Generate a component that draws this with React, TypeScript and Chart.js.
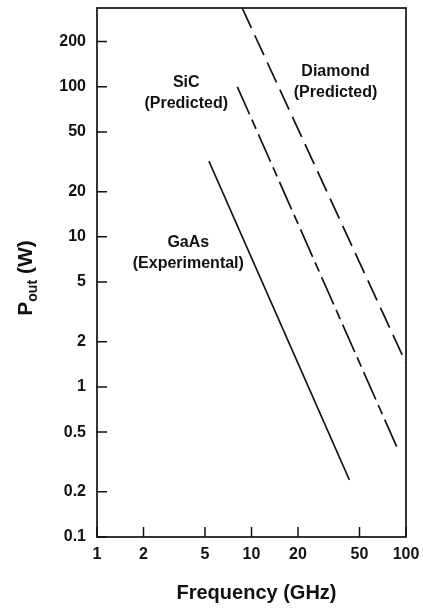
import React, { useEffect, useRef } from "react";
import { Chart, registerables } from "chart.js";
Chart.register(...registerables);

const FONT = '"Liberation Sans", Arial, Helvetica, sans-serif';
const INK = "#111";

const freqTicks = [1, 2, 5, 10, 20, 50, 100];
const powerTicks = [0.1, 0.2, 0.5, 1, 2, 5, 10, 20, 50, 100, 200];

const gaasFreq = [5.3, 43];
const gaasPower = [32, 0.24];
const sicFreq = [8.1, 87];
const sicPower = [100, 0.4];
const diamondFreq = [8.7, 100];
const diamondPower = [335, 1.44];

const labelTexts = ["SiC", "(Predicted)", "Diamond", "(Predicted)", "GaAs", "(Experimental)"];
const labelFreq = [3.78, 3.78, 35, 35, 3.9, 3.9];
const labelPower = [106, 77, 126, 91, 9.1, 6.6];

const toPoints = (xs: number[], ys: number[]) => xs.map((x, i) => ({ x, y: ys[i] }));

const zeroPad = (s: any) => {
  s.paddingTop = 0;
  s.paddingBottom = 0;
  s.paddingLeft = 0;
  s.paddingRight = 0;
};

const framePlugin = {
  id: "frame",
  afterDraw(chart: any) {
    const ctx = chart.ctx as CanvasRenderingContext2D;
    const a = chart.chartArea;
    const xs = chart.scales.x;
    const ys = chart.scales.y;
    ctx.save();
    ctx.strokeStyle = INK;
    ctx.lineWidth = 1.7;
    ctx.strokeRect(a.left, a.top, a.right - a.left, a.bottom - a.top);
    ctx.lineWidth = 1.5;
    ctx.beginPath();
    powerTicks.forEach((v) => {
      const y = ys.getPixelForValue(v);
      ctx.moveTo(a.left, y);
      ctx.lineTo(a.left + 10, y);
    });
    freqTicks.forEach((v) => {
      const x = xs.getPixelForValue(v);
      ctx.moveTo(x, a.bottom);
      ctx.lineTo(x, a.bottom - 10);
    });
    ctx.stroke();

    ctx.fillStyle = INK;
    // x title
    ctx.font = `bold 20px ${FONT}`;
    ctx.textAlign = "center";
    ctx.textBaseline = "middle";
    ctx.fillText("Frequency (GHz)", (a.left + a.right) / 2 + 5, 593);

    // y title with subscript
    ctx.save();
    ctx.translate(25, 278);
    ctx.rotate(-Math.PI / 2);
    ctx.textAlign = "left";
    ctx.textBaseline = "alphabetic";
    const big = `bold 21px ${FONT}`;
    const small = `bold 14px ${FONT}`;
    ctx.font = big;
    const wP = ctx.measureText("P").width;
    const wRest = ctx.measureText(" (W)").width;
    ctx.font = small;
    const wSub = ctx.measureText("out").width;
    const total = wP + wSub + wRest;
    let cx = -total / 2;
    const base = 7;
    ctx.font = big;
    ctx.fillText("P", cx, base);
    cx += wP;
    ctx.font = small;
    ctx.fillText("out", cx, base + 5);
    cx += wSub;
    ctx.font = big;
    ctx.fillText(" (W)", cx, base);
    ctx.restore();

    // series labels
    ctx.font = `bold 16px ${FONT}`;
    ctx.textAlign = "center";
    ctx.textBaseline = "middle";
    labelTexts.forEach((t, i) => {
      ctx.fillText(t, xs.getPixelForValue(labelFreq[i]), ys.getPixelForValue(labelPower[i]));
    });
    ctx.restore();
  },
};

export default function App() {
  const ref = useRef<HTMLCanvasElement>(null);
  useEffect(() => {
    const canvas = ref.current!;
    const tickFont = { family: FONT, size: 16, weight: "bold" as const };
    const chart = new Chart(canvas, {
      type: "line",
      data: {
        datasets: [
          {
            label: "GaAs (Experimental)",
            data: toPoints(gaasFreq, gaasPower),
            borderColor: INK,
            borderWidth: 1.6,
            pointRadius: 0,
            fill: false,
          },
          {
            label: "SiC (Predicted)",
            data: toPoints(sicFreq, sicPower),
            borderColor: INK,
            borderWidth: 1.7,
            borderDash: [30, 6, 10, 6],
            pointRadius: 0,
            fill: false,
          },
          {
            label: "Diamond (Predicted)",
            data: toPoints(diamondFreq, diamondPower),
            borderColor: INK,
            borderWidth: 1.7,
            borderDash: [22, 8],
            pointRadius: 0,
            fill: false,
          },
        ],
      },
      options: {
        responsive: false,
        animation: false,
        devicePixelRatio: 1,
        layout: { padding: { top: 8, right: 17, left: 0, bottom: 0 } },
        plugins: { legend: { display: false }, tooltip: { enabled: false } },
        scales: {
          x: {
            type: "logarithmic",
            min: 1,
            max: 100,
            position: "bottom",
            grid: { display: false, drawTicks: false },
            border: { display: false },
            afterBuildTicks: (s: any) => {
              s.ticks = freqTicks.map((v) => ({ value: v }));
            },
            afterFit: (s: any) => {
              s.height = 72;
              zeroPad(s);
            },
            ticks: {
              autoSkip: false,
              maxRotation: 0,
              padding: 8,
              color: INK,
              font: tickFont,
              callback: (v: any) => String(v),
            },
          },
          y: {
            type: "logarithmic",
            min: 0.1,
            max: 335,
            position: "left",
            grid: { display: false, drawTicks: false },
            border: { display: false },
            afterBuildTicks: (s: any) => {
              s.ticks = powerTicks.map((v) => ({ value: v }));
            },
            afterFit: (s: any) => {
              s.width = 97;
              zeroPad(s);
            },
            ticks: {
              autoSkip: false,
              padding: 11,
              color: INK,
              font: tickFont,
              callback: (v: any) => String(v),
            },
          },
        },
      },
      plugins: [framePlugin],
    } as any);
    return () => chart.destroy();
  }, []);
  return (
    <div style={{ position: "fixed", left: 0, top: 0, width: 423, height: 609, background: "#fff" }}>
      <canvas ref={ref} width={423} height={609} style={{ display: "block" }} />
    </div>
  );
}
